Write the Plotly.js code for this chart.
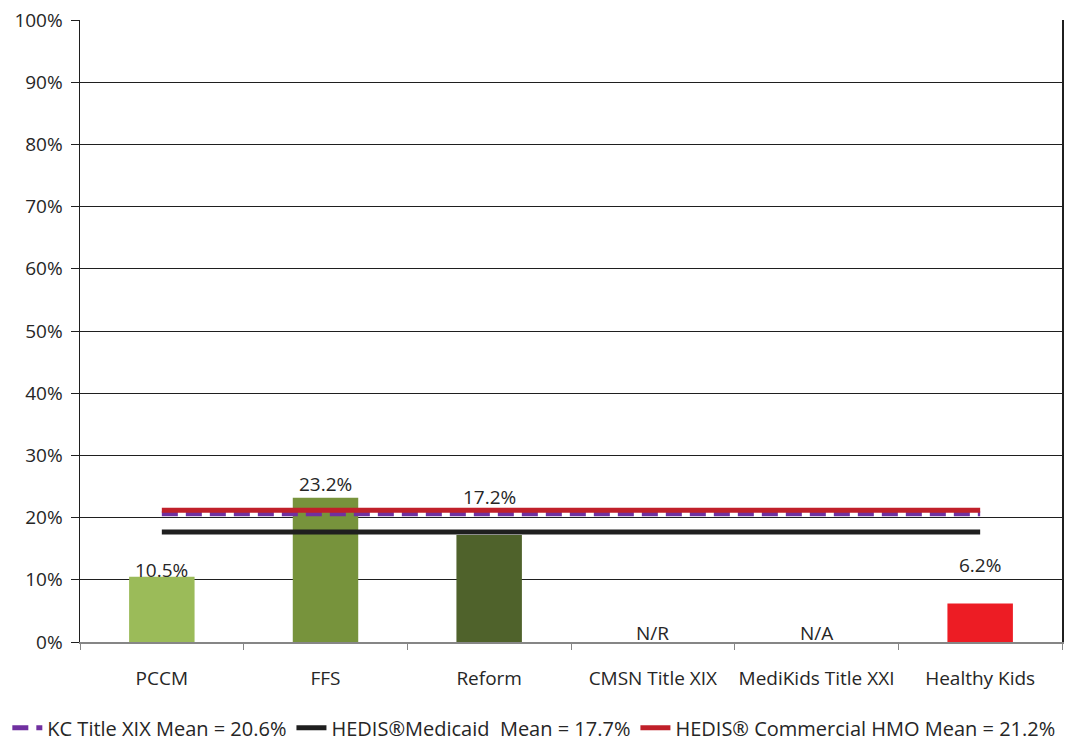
<!DOCTYPE html>
<html>
<head>
<meta charset="utf-8">
<script src="https://cdn.plot.ly/plotly-3.0.1.min.js"></script>
<style>html,body{margin:0;padding:0;background:#fff;}#chart{width:1082px;height:742px;}</style>
</head>
<body>
<div id="chart"></div>
<script>
// Data
const categories = ["PCCM", "FFS", "Reform", "CMSN Title XIX", "MediKids Title XXI", "Healthy Kids"];
const values = [10.5, 23.2, 17.2, null, null, 6.2];
const valueLabels = ["10.5%", "23.2%", "17.2%", "N/R", "N/A", "6.2%"];
const barColors = ["#9BBB59", "#77933C", "#4F622B", "#9BBB59", "#9BBB59", "#ED1C24"];
const kcMeanName = "KC Title XIX Mean = 20.6%";
const kcMean = 20.6;
const medicaidName = "HEDIS\u00AEMedicaid  Mean = 17.7%";
const medicaidMean = 17.7;
const commercialName = "HEDIS\u00AE Commercial HMO Mean = 21.2%";
const commercialMean = 21.2;
const yTicks = [0, 10, 20, 30, 40, 50, 60, 70, 80, 90, 100];

const FONT = "Open Sans, sans-serif";
const FS = 19;
const labelShift = [7, 14, 38, 9, 9, 38];

const traces = [
  {
    type: "bar", x: categories, y: values.map(v => v === null ? 0 : v),
    marker: {color: barColors}, width: 0.4, showlegend: false, hoverinfo: "skip"
  },
  {
    type: "scatter", mode: "lines", name: kcMeanName,
    x: [categories[0], categories[categories.length - 1]], y: [kcMean, kcMean],
    line: {color: "#7030A0", width: 5, dash: "16px,8px"}
  },
  {
    type: "scatter", mode: "lines", name: medicaidName,
    x: [categories[0], categories[categories.length - 1]], y: [medicaidMean, medicaidMean],
    line: {color: "#1F1F1F", width: 5}
  },
  {
    type: "scatter", mode: "lines", name: commercialName,
    x: [categories[0], categories[categories.length - 1]], y: [commercialMean, commercialMean],
    line: {color: "#C0202A", width: 5}
  }
];

const annotations = categories.map((c, i) => ({
  x: c, y: values[i] === null ? 0 : values[i], xref: "x", yref: "y",
  text: valueLabels[i], showarrow: false, yanchor: "middle", yshift: labelShift[i],
  font: {family: FONT, size: FS, color: "#262626"}
}));

const layout = {
  width: 1082, height: 742,
  margin: {l: 80, r: 20, t: 20, b: 100, autoexpand: false},
  paper_bgcolor: "#fff", plot_bgcolor: "#fff",
  font: {family: FONT, size: FS, color: "#262626"},
  xaxis: {
    type: "category", tickson: "boundaries", ticks: "outside", ticklen: 6, tickcolor: "#868686",
    showline: true, linecolor: "#868686", linewidth: 2, showgrid: false,
    tickangle: 0, automargin: false,
    ticklabelstandoff: 18, tickfont: {family: FONT, size: FS, color: "#262626"},
    fixedrange: true
  },
  yaxis: {
    range: [0, 100], tickvals: yTicks, ticktext: yTicks.map(t => t + "%"),
    ticks: "outside", ticklen: 8, tickcolor: "#1F1F1F", automargin: false,
    showline: true, mirror: true, linecolor: "#1F1F1F", linewidth: 1.5,
    showgrid: true, gridcolor: "#1F1F1F", gridwidth: 1, zeroline: false,
    ticklabelstandoff: 4, tickfont: {family: FONT, size: FS, color: "#262626"},
    fixedrange: true
  },
  showlegend: true,
  legend: {
    orientation: "h", xref: "paper", yref: "paper", x: -0.074, xanchor: "left",
    y: -0.138, yanchor: "middle", font: {family: FONT, size: 20, color: "#262626"},
    itemwidth: 30, tracegroupgap: 0, bgcolor: "rgba(0,0,0,0)"
  },
  annotations: annotations,
  bargap: 0.6
};

Plotly.newPlot("chart", traces, layout, {displayModeBar: false, staticPlot: true});
</script>
</body>
</html>
